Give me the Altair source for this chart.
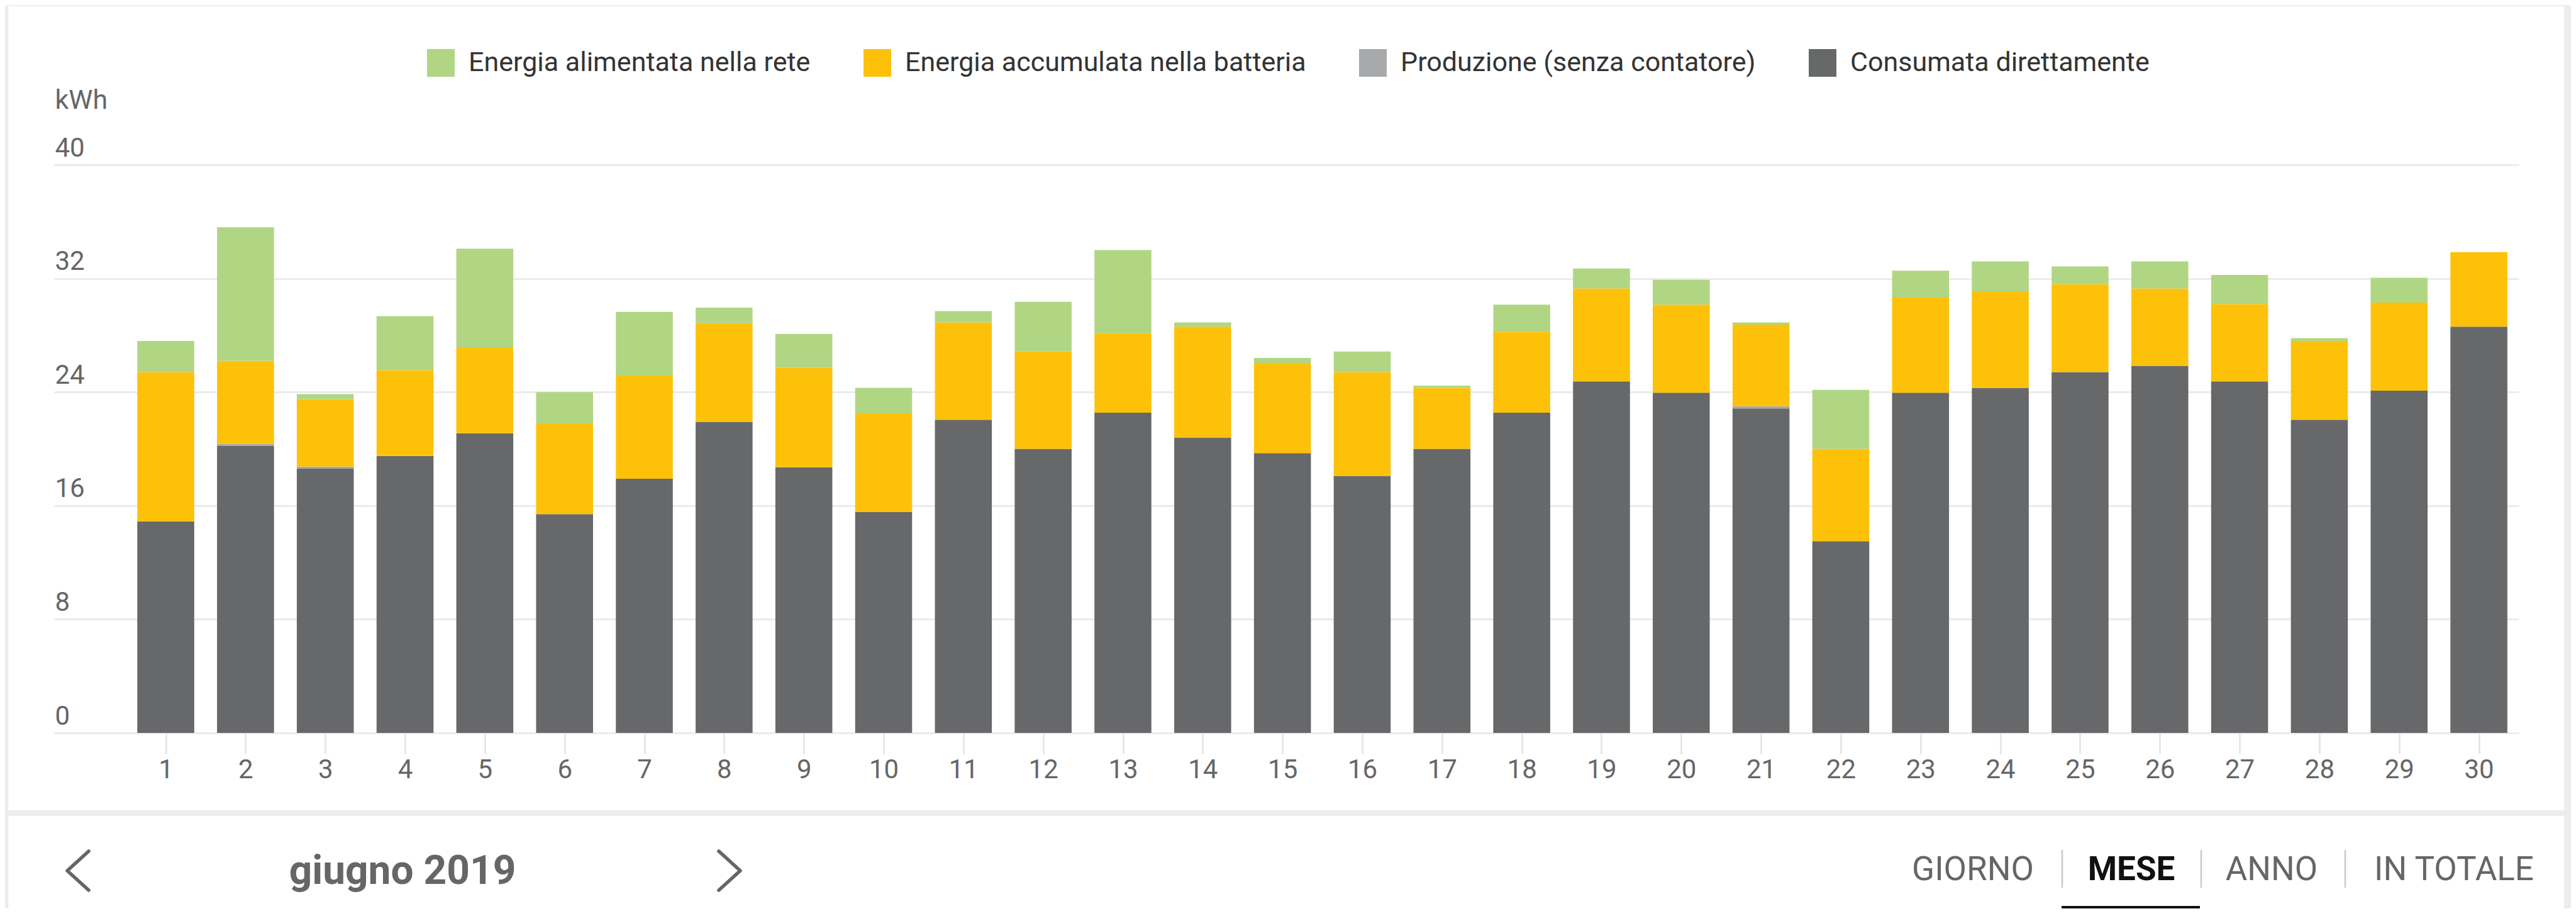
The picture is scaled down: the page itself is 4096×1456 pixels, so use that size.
import altair as alt
import pandas as pd

# ---------------- data ----------------
days = list(range(1, 31))
consumata = [14.9, 20.2, 18.6, 19.5, 21.1, 15.4, 17.9, 21.9, 18.7, 15.55,
             22.05, 20.0, 22.55, 20.8, 19.7, 18.1, 20.0, 22.55, 24.75, 23.95,
             22.85, 13.5, 23.95, 24.3, 25.4, 25.85, 24.75, 22.05, 24.1, 28.6]
produzione = [0, 0.15, 0.15, 0, 0, 0, 0, 0, 0, 0,
              0, 0, 0, 0, 0, 0, 0, 0, 0, 0,
              0.15, 0, 0, 0, 0, 0, 0, 0, 0, 0]
batteria = [10.5, 5.85, 4.75, 6.05, 6.05, 6.35, 7.3, 6.95, 7.0, 6.95,
            6.85, 6.85, 5.6, 7.8, 6.35, 7.3, 4.3, 5.7, 6.55, 6.2,
            5.75, 6.5, 6.7, 6.8, 6.2, 5.45, 5.45, 5.55, 6.2, 5.25]
rete = [2.2, 9.4, 0.35, 3.8, 6.95, 2.25, 4.45, 1.1, 2.4, 1.8,
        0.8, 3.5, 5.85, 0.3, 0.35, 1.45, 0.15, 1.9, 1.4, 1.75,
        0.15, 4.15, 1.9, 2.1, 1.25, 1.9, 2.05, 0.2, 1.75, 0.0]

series_names = ["Energia alimentata nella rete",
                "Energia accumulata nella batteria",
                "Produzione (senza contatore)",
                "Consumata direttamente"]
series_colors = ["#b0d684", "#fec10a", "#a8a9aa", "#67686a"]
y_ticks = [0, 8, 16, 24, 32, 40]

period_label = "giugno 2019"
tabs = ["GIORNO", "MESE", "ANNO", "IN TOTALE"]

rows = []
stack_series = [(series_names[3], consumata, 0), (series_names[2], produzione, 1),
                (series_names[1], batteria, 2), (series_names[0], rete, 3)]
for i, d in enumerate(days):
    for name, vals, order in stack_series:
        rows.append({"day": d, "serie": name, "kwh": vals[i], "ord": order})
df = pd.DataFrame(rows)

FONT = "Roboto"
OX, OY = 86, 262          # plot origin in window coordinates
W, H = 3919, 903          # plot area
CANVAS_W, CANVAS_H = 4080, 1436


def px(X):
    return X - OX


def py(Y):
    return Y - OY


one = pd.DataFrame({"a": [0]})

# ---------------- bars ----------------
bars = alt.Chart(df).transform_stack(
    stack="kwh", groupby=["day"], as_=["y0", "y1"],
    sort=[alt.SortField("ord", order="ascending")]
).transform_calculate(
    xa="datum.day - 0.357", xb="datum.day + 0.357"
).mark_bar().encode(
    x=alt.X("xa:Q",
            scale=alt.Scale(domain=[-0.4, 30.5], nice=False, zero=False),
            axis=alt.Axis(values=days, title=None, grid=False, domain=False,
                          ticks=True, tickSize=33, tickColor="#e4e4e4", tickWidth=2.7,
                          labelFontSize=42, labelColor="#666666", labelFont=FONT,
                          labelPadding=5, labelFlush=False, format="d")),
    x2="xb:Q",
    y=alt.Y("y0:Q",
            scale=alt.Scale(domain=[0, 40], nice=False),
            axis=alt.Axis(values=y_ticks, title="kWh", grid=True, gridColor="#ebebeb",
                          gridWidth=3, domain=False, ticks=False, tickSize=0,
                          labelAlign="left", labelPadding=-1, labelBaseline="alphabetic",
                          labelOffset=-14, labelFontSize=42, labelColor="#666666",
                          labelFont=FONT, titleAngle=0, titleAlign="left",
                          titleBaseline="alphabetic", titleX=1, titleY=-90,
                          titleFontSize=43, titleFontWeight="normal",
                          titleColor="#666666", titleFont=FONT)),
    y2="y1:Q",
    color=alt.Color("serie:N",
                    scale=alt.Scale(domain=series_names, range=series_colors),
                    legend=alt.Legend(orient="none", legendX=593, legendY=-184,
                                      direction="horizontal", columns=4, title=None,
                                      symbolType="square", symbolSize=1936,
                                      symbolStrokeWidth=0, labelFontSize=43,
                                      labelFont=FONT, labelColor="#333333",
                                      labelOffset=22, columnPadding=84,
                                      padding=0, labelLimit=0)),
)

# ---------------- page decoration ----------------
GRAY = "#eceeed"


def strip(x0, x1, y0, y1, color=GRAY):
    return alt.Chart(one).mark_rect(color=color).encode(
        x=alt.value(x0), x2=alt.value(x1), y=alt.value(y0), y2=alt.value(y1))


left_b = strip(-OX + 8, px(13.5), -OY + 8, py(8 + CANVAS_H))
right_b = strip(px(4077), px(8 + CANVAS_W), -OY + 8, py(8 + CANVAS_H))
top_b = strip(-OX + 8, px(8 + CANVAS_W), -OY + 8, py(10))
sep_b = strip(-OX + 8, px(8 + CANVAS_W), py(1288), py(1297))


def label(text, X, Y, size, color="#666666", weight="normal", align="center"):
    return alt.Chart(one).mark_text(text=text, align=align, baseline="alphabetic",
                                    font=FONT, fontSize=size, color=color,
                                    fontWeight=weight).encode(
        x=alt.value(px(X)), y=alt.value(py(Y)))


def chevron(path, X, Y):
    return alt.Chart(one).mark_point(shape=path, filled=False, strokeWidth=5.5,
                                     size=3844, color="#666666", opacity=1,
                                     strokeCap="round", strokeJoin="round").encode(
        x=alt.value(px(X)), y=alt.value(py(Y)))


prev_c = chevron("M 0.55 -1 L -0.55 0 L 0.55 1", 124, 1384)
next_c = chevron("M -0.55 -1 L 0.55 0 L -0.55 1", 1160, 1384)
period = label(period_label, 640, 1405, 64, weight="bold")

t1 = label(tabs[0], 3137, 1399, 53)
t2 = label(tabs[1], 3389, 1399, 53, color="#111111", weight="bold")
t3 = label(tabs[2], 3612, 1399, 53)
t4 = label(tabs[3], 3902, 1399, 53)


def vsep(X):
    return alt.Chart(one).mark_rule(color="#c8c8c8", strokeWidth=2.5).encode(
        x=alt.value(px(X)), y=alt.value(py(1351)), y2=alt.value(py(1411)))


underline = strip(px(3278), px(3498), py(8 + CANVAS_H - 4), py(8 + CANVAS_H), color="#111111")

chart = alt.layer(
    left_b, right_b, top_b, sep_b,
    bars,
    prev_c, next_c, period, t1, t2, t3, t4,
    vsep(3279), vsep(3500), vsep(3729), underline,
).properties(
    width=W, height=H,
    padding={"left": OX - 8, "top": OY - 8,
             "right": CANVAS_W - (OX - 8) - W, "bottom": CANVAS_H - (OY - 8) - H},
    autosize=alt.AutoSizeParams(type="none"),
    background="white",
).configure_view(stroke=None)

chart.save("out.html", embed_options={"renderer": "svg", "actions": False})
